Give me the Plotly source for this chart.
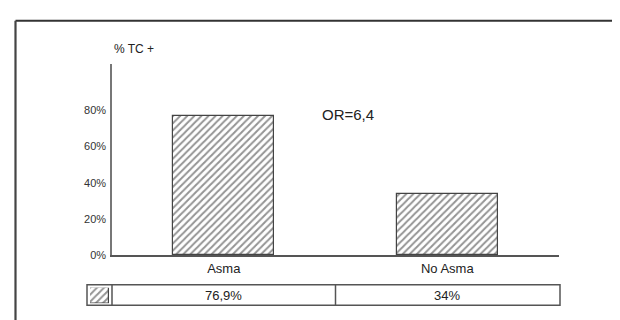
import plotly.graph_objects as go

categories = ["Asma", "No Asma"]
values = [76.9, 34]
value_labels = ["76,9%", "34%"]
tick_vals = [0, 20, 40, 60, 80]
tick_text = ["0%", "20%", "40%", "60%", "80%"]
y_title = "% TC +"
note = "OR=6,4"

W, H = 620, 320
FONT = "Liberation Sans, Arial, sans-serif"
INK = "#3a3a3a"

def px_x(x):
    return x / W

def px_y(y):
    return 1 - y / H

fig = go.Figure()

pattern = dict(shape="/", size=5, solidity=0.4, fgcolor="#2a2a2a", bgcolor="white", fillmode="overlay")

fig.add_trace(go.Bar(
    x=list(range(len(categories))), y=values, width=0.45,
    marker=dict(color="white", pattern=pattern, line=dict(color="#444444", width=1.2)),
    hoverinfo="skip", showlegend=False,
))

# legend swatch in the table's first cell
fig.add_trace(go.Bar(
    x=[0], y=[1], width=1, xaxis="x2", yaxis="y2",
    marker=dict(color="white", pattern=pattern, line=dict(color="#444444", width=1.2)),
    hoverinfo="skip", showlegend=False,
))

fig.update_layout(
    width=W, height=H,
    margin=dict(l=0, r=0, t=0, b=0),
    paper_bgcolor="white", plot_bgcolor="white",
    font=dict(family=FONT, color=INK),
    xaxis=dict(
        domain=[px_x(104), px_x(551)], range=[-0.5, 1.5],
        tickvals=list(range(len(categories))), ticktext=categories,
        tickfont=dict(size=13, color="#222"),
        showgrid=False, zeroline=False, showline=True, linecolor="#555", linewidth=1.5,
        ticks="", fixedrange=True,
    ),
    yaxis=dict(
        domain=[px_y(252), px_y(57)], range=[0, 105.4],
        tickvals=tick_vals, ticktext=tick_text,
        tickfont=dict(size=11, color="#333"),
        showgrid=False, zeroline=False, showline=True, linecolor="#777", linewidth=1.5,
        ticks="", ticklabelstandoff=2, fixedrange=True,
    ),
    xaxis2=dict(domain=[px_x(82), px_x(101)], range=[-0.5, 0.5], visible=False, anchor="y2"),
    yaxis2=dict(domain=[px_y(301), px_y(285)], range=[0, 1], visible=False, anchor="x2"),
    bargap=0,
)

line = dict(color="#555", width=1.5)
shapes = [
    # outer frame
    dict(type="line", xref="paper", yref="paper", x0=px_x(7.5), x1=1.0, y0=px_y(13), y1=px_y(13), line=dict(color="#333", width=2.2)),
    dict(type="line", xref="paper", yref="paper", x0=px_x(7.5), x1=px_x(7.5), y0=px_y(13), y1=0, line=dict(color="#444", width=2.2)),
    # table rows
    dict(type="rect", xref="paper", yref="paper", x0=px_x(79), x1=px_x(552), y0=px_y(303), y1=px_y(282), line=line),
    dict(type="line", xref="paper", yref="paper", x0=px_x(104), x1=px_x(104), y0=px_y(303), y1=px_y(282), line=line),
    dict(type="line", xref="x", yref="paper", x0=0.5, x1=0.5, y0=px_y(303), y1=px_y(282), line=line),
]
fig.update_layout(shapes=shapes)

annotations = [
    dict(text=y_title, xref="paper", yref="paper", x=px_x(104), y=px_y(42), xanchor="left", yanchor="middle",
         showarrow=False, font=dict(size=12, color="#222")),
    dict(text=note, xref="paper", yref="paper", x=px_x(312), y=px_y(109), xanchor="left", yanchor="middle",
         showarrow=False, font=dict(size=15, color="#222")),
]
for i, lab in enumerate(value_labels):
    annotations.append(dict(text=lab, xref="x", yref="paper", x=i, y=px_y(292.5), xanchor="center", yanchor="middle",
                            showarrow=False, font=dict(size=13, color="#222")))
fig.update_layout(annotations=annotations)

fig.write_html("out.html")
